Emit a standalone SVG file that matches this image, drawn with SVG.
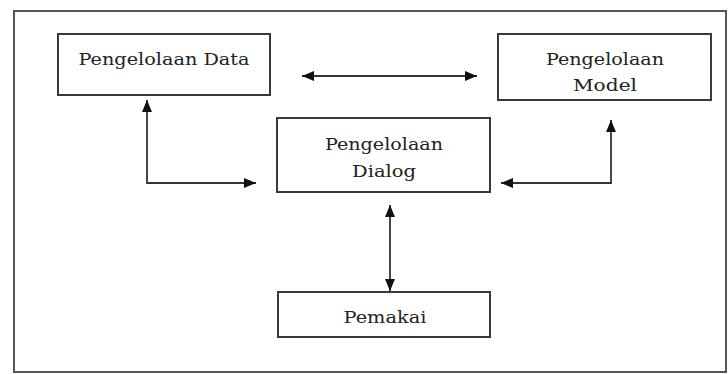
<svg xmlns="http://www.w3.org/2000/svg" width="728" height="374" viewBox="0 0 728 374">
<defs>
<style>
.box{fill:#fff;stroke:#3a3a3a;stroke-width:2}
.frame{fill:#fff;stroke:#555;stroke-width:2}
.lbl{font-family:"DejaVu Serif","Liberation Serif",serif;font-size:17px;fill:#222;text-anchor:middle}
.con{fill:none;stroke:#333;stroke-width:1.8}
</style>
<marker id="ah" viewBox="0 0 12 10" refX="12" refY="5" markerWidth="12" markerHeight="10" markerUnits="userSpaceOnUse" orient="auto-start-reverse">
<path d="M0,0 L12,5 L0,10 Z" fill="#111"/>
</marker>
</defs>
<rect class="frame" x="14" y="11" width="712" height="361"/>
<g id="data">
<rect class="box" x="58" y="34" width="212" height="61"/>
<text class="lbl" x="164" y="65" textLength="171" lengthAdjust="spacingAndGlyphs">Pengelolaan Data</text>
</g>
<g id="model">
<rect class="box" x="498" y="34" width="213" height="66"/>
<text class="lbl" x="605" y="65" textLength="118" lengthAdjust="spacingAndGlyphs">Pengelolaan</text>
<text class="lbl" x="605" y="91" textLength="64" lengthAdjust="spacingAndGlyphs">Model</text>
</g>
<g id="dialog">
<rect class="box" x="277" y="118" width="213" height="74"/>
<text class="lbl" x="384" y="150" textLength="118" lengthAdjust="spacingAndGlyphs">Pengelolaan</text>
<text class="lbl" x="384" y="177" textLength="64" lengthAdjust="spacingAndGlyphs">Dialog</text>
</g>
<g id="pemakai">
<rect class="box" x="278" y="292" width="212" height="45"/>
<text class="lbl" x="385" y="323" textLength="83" lengthAdjust="spacingAndGlyphs">Pemakai</text>
</g>
<g id="connectors">
<path class="con" d="M302,76 L477,76" marker-start="url(#ah)" marker-end="url(#ah)"/>
<path class="con" d="M147,100 L147,183 L256,183" marker-start="url(#ah)" marker-end="url(#ah)"/>
<path class="con" d="M611,120 L611,183 L501,183" marker-start="url(#ah)" marker-end="url(#ah)"/>
<path class="con" d="M390,205 L390,291" marker-start="url(#ah)" marker-end="url(#ah)"/>
</g>
</svg>
